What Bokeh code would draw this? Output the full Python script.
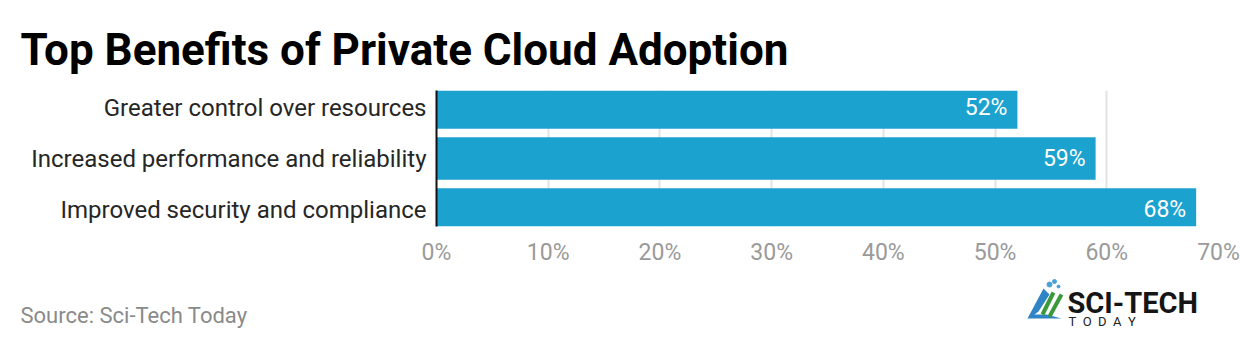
from bokeh.plotting import figure
from bokeh.layouts import column, row
from bokeh.models import FactorRange, Range1d, FixedTicker, PrintfTickFormatter, Title, ColumnDataSource
from bokeh.core.properties import value
from bokeh.embed import file_html
from bokeh.resources import INLINE

# Data (top-to-bottom order as shown)
categories = ["Greater control over resources",
              "Increased performance and reliability",
              "Improved security and compliance"]
values = [52, 59, 68]
tick_values = [0, 10, 20, 30, 40, 50, 60, 70]
title_text = "Top Benefits of Private Cloud Adoption"
source_text = "Source: Sci-Tech Today"

factors = categories[::-1]
labels = [f"{v}%" for v in values]
src = ColumnDataSource(dict(cat=categories, val=values, lab=labels))

FONT = "Roboto"
BAR = "#1ba2cf"

p = figure(width=1240, height=270, output_backend="svg", toolbar_location=None,
           y_range=FactorRange(factors=factors, range_padding=-1/6, range_padding_units="absolute"),
           x_range=Range1d(0, 70),
           min_border_left=436, min_border_right=22, min_border_top=90, min_border_bottom=44)
p.outline_line_color = None
p.background_fill_color = "white"
p.border_fill_color = "white"

p.title = Title(text=title_text, align="left", offset=-416, standoff=30,
                text_font=FONT, text_font_style="bold", text_font_size="44px",
                text_color="#000000")

p.hbar(y="cat", right="val", left=0, height=0.833, source=src, color=BAR, line_color=None)
p.text(x="val", y="cat", text="lab", source=src, x_offset=-10, text_align="right",
       text_baseline="middle", text_color="white", text_font=value(FONT), text_font_size="23px")

# axes
p.xaxis.ticker = FixedTicker(ticks=tick_values)
p.xaxis.formatter = PrintfTickFormatter(format="%d%%")
p.xaxis.axis_line_color = None
p.xaxis.major_tick_line_color = None
p.xaxis.minor_tick_line_color = None
p.xaxis.major_tick_out = 0
p.xaxis.major_label_text_font = FONT
p.xaxis.major_label_text_font_size = "23px"
p.xaxis.major_label_text_color = "#9a9a9a"
p.xaxis.major_label_standoff = 12

p.yaxis.axis_line_color = "#111111"
p.yaxis.axis_line_width = 2
p.yaxis.major_tick_line_color = None
p.yaxis.minor_tick_line_color = None
p.yaxis.major_tick_out = 0
p.yaxis.major_label_text_font = FONT
p.yaxis.major_label_text_font_size = "24px"
p.yaxis.major_label_text_color = "#262626"
p.yaxis.major_label_standoff = 10

p.ygrid.grid_line_color = None
p.xgrid.grid_line_color = "#e3e3e3"
p.xgrid.grid_line_width = 2

# Footer (pixel coordinates, y downward)
f = figure(width=1240, height=78, output_backend="svg", toolbar_location=None,
           x_range=Range1d(0, 1240), y_range=Range1d(78, 0),
           min_border=0, min_border_left=0, min_border_right=0, min_border_top=0, min_border_bottom=0)
f.axis.visible = False
f.grid.visible = False
f.outline_line_color = None
f.background_fill_color = "white"
f.border_fill_color = "white"

f.text(x=[20], y=[45], text=[source_text], text_font=value(FONT), text_font_size="22px",
       text_color="#8a8a8a", text_baseline="alphabetic")
# logo
f.patch(x=[1027, 1043, 1049, 1038, 1034, 1046, 1061], y=[48, 18, 24, 41, 44, 44, 48],
        color="#2f84c6", line_color=None)
f.line(x=[1042, 1053], y=[44, 22], line_color="#3a9a3a", line_width=4)
f.line(x=[1049, 1061], y=[46, 24], line_color="#3a9a3a", line_width=4)
f.scatter(x=[1049, 1054, 1058], y=[14, 11, 16], size=[5, 4, 3], color="#4aa0d8")
f.text(x=[1067], y=[32], text=["SCI-TECH"], text_font=value(FONT), text_font_style="bold",
       text_font_size="29px", text_color="#151515", text_baseline="alphabetic")
f.text(x=[1068], y=[51], text=["T\u00a0\u00a0O\u00a0\u00a0D\u00a0\u00a0A\u00a0\u00a0Y"],
       text_font=value(FONT), text_font_size="13px",
       text_color="#222222", text_baseline="alphabetic")

layout = column(p, row(f, spacing=0), spacing=0)
open("out.html", "w").write(file_html(layout, INLINE))
